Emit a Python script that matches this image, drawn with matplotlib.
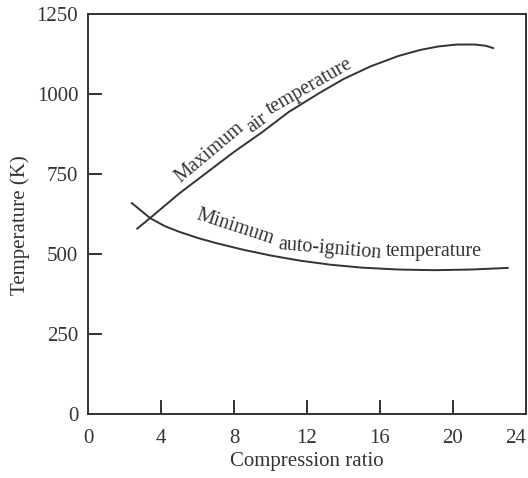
import matplotlib
matplotlib.use("Agg")
import matplotlib.pyplot as plt

# Datos
ratio_max = [2.7, 3.4, 5.0, 6.5, 8.0, 9.5, 11.0, 12.7, 14.0, 15.5, 17.0, 18.2, 19.2, 20.2, 21.2, 21.8, 22.2]
temp_max = [580, 613, 690, 755, 820, 880, 945, 1005, 1048, 1088, 1120, 1139, 1150, 1156, 1156, 1152, 1145]

ratio_min = [2.4, 3.4, 4.2, 5.0, 6.0, 7.0, 8.5, 10.0, 11.6, 13.3, 15.0, 17.0, 19.0, 21.0, 23.0]
temp_min = [660, 613, 588, 570, 551, 535, 514, 496, 480, 467, 458, 452, 450, 452, 457]

x_ticks = [0, 4, 8, 12, 16, 20, 24]
y_ticks = [0, 250, 500, 750, 1000, 1250]

color = '#333333'
plt.rcParams['font.family'] = ['Liberation Serif', 'DejaVu Serif']

fig = plt.figure(figsize=(5.28, 4.78), dpi=100)
ax = fig.add_axes([0.1667, 0.1339, 0.8295, 0.8358])

ax.plot(ratio_max, temp_max, color=color, linewidth=1.4)
ax.plot(ratio_min, temp_min, color=color, linewidth=1.4)

ax.set_xlim(0, 24)
ax.set_ylim(0, 1250)
ax.set_xticks(x_ticks)
ax.set_yticks(y_ticks)
ax.tick_params(direction='in', length=10, width=1.4, colors=color, labelsize=15)
ax.tick_params(axis='x', pad=11)
ax.tick_params(axis='y', pad=7)

# sin marcas en los extremos
for t in [ax.xaxis.get_major_ticks()[0], ax.xaxis.get_major_ticks()[-1],
          ax.yaxis.get_major_ticks()[0], ax.yaxis.get_major_ticks()[-1]]:
    t.tick1line.set_visible(False)
# el 24 queda dentro de la figura
ax.get_xticklabels()[-1].set_ha('right')

for s in ax.spines.values():
    s.set_linewidth(1.4)
    s.set_color(color)

ax.set_xlabel('Compression ratio', fontsize=15, color=color)
ax.set_ylabel('Temperature (K)', fontsize=15, color=color)
ax.xaxis.set_label_coords(0.5, -0.12)
ax.xaxis.label.set_va('center')
ax.yaxis.set_label_coords(-0.155, 0.473)
ax.yaxis.label.set_va('center')

# Etiquetas de las curvas (por palabras, siguiendo la curva)
kw = dict(fontsize=14.5, color=color, ha='center', va='center', rotation_mode='anchor')
ax.text(6.65, 818, 'Maximum', rotation=40, **kw)
ax.text(9.25, 910, 'air', rotation=36, **kw)
ax.text(12.15, 1024, 'temperature', rotation=30, **kw)

ax.text(8.05, 585, 'Minimum', rotation=-18, **kw)
ax.text(13.26, 516, 'auto-ignition', rotation=-5, **kw)
ax.text(18.96, 507, 'temperature', rotation=0, **kw)

fig.savefig('out.png', dpi=100)
